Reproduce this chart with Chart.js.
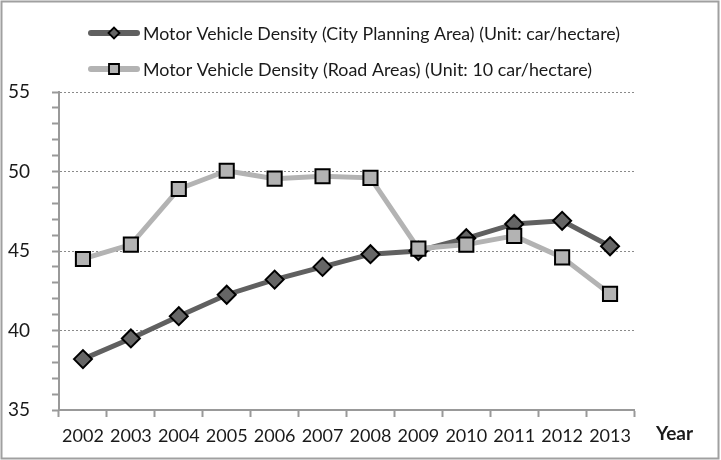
<!DOCTYPE html>
<html lang="en">
<head>
    <meta charset="UTF-8">
    <title>Motor Vehicle Density</title>
    <script src="https://cdn.jsdelivr.net/npm/chart.js"></script>
    <style type="text/css">
        body {
            margin: 0;
            background: #fff;
        }

        #wrap {
            width: 721px;
            height: 460px;
        }
    </style>
</head>
<body>
<div id="wrap">
    <canvas id="myChart" width="721" height="460"></canvas>
</div>

<script>
  var years = ['2002', '2003', '2004', '2005', '2006', '2007', '2008', '2009', '2010', '2011', '2012', '2013'];
  var cityPlanning = [38.2, 39.5, 40.9, 42.25, 43.2, 44.0, 44.8, 45.0, 45.8, 46.7, 46.9, 45.3];
  var roadAreas = [44.5, 45.4, 48.9, 50.05, 49.55, 49.7, 49.6, 45.15, 45.4, 45.95, 44.6, 42.3];
  var seriesNames = [
    'Motor Vehicle Density (City Planning Area) (Unit: car/hectare)',
    'Motor Vehicle Density (Road Areas) (Unit: 10 car/hectare)'
  ];
  var yTicks = [35, 40, 45, 50, 55];

  var FONT = 'Lato, "Liberation Sans", sans-serif';
  var DARK = '#606060';
  var LIGHT = '#b3b3b3';

  // legend, frame and axis label drawn by hand
  var decorPlugin = {
    id: 'decor',
    beforeDraw: function (chart) {
      var c = chart.ctx;
      c.save();
      c.fillStyle = '#fff';
      c.fillRect(0, 0, chart.width, chart.height);
      c.restore();
    },
    afterDraw: function (chart) {
      var c = chart.ctx;
      c.save();

      var rows = [
        {y: 33, color: DARK, fill: '#666', style: 'diamond', width: 477},
        {y: 69, color: LIGHT, fill: LIGHT, style: 'square', width: 449}
      ];
      rows.forEach(function (row, i) {
        c.strokeStyle = row.color;
        c.lineWidth = 6;
        c.lineCap = 'round';
        c.beginPath();
        c.moveTo(91, row.y);
        c.lineTo(137, row.y);
        c.stroke();

        c.fillStyle = row.fill;
        c.strokeStyle = '#000';
        c.lineWidth = 1.8;
        c.beginPath();
        if (row.style === 'diamond') {
          c.moveTo(114 - 5.5, row.y);
          c.lineTo(114, row.y - 5.5);
          c.lineTo(114 + 5.5, row.y);
          c.lineTo(114, row.y + 5.5);
          c.closePath();
        } else {
          c.rect(109, row.y - 5, 10, 10);
        }
        c.fill();
        c.stroke();

        c.fillStyle = '#1a1a1a';
        c.font = '18px ' + FONT;
        c.textBaseline = 'middle';
        c.textAlign = 'left';
        c.fillText(seriesNames[i], 143, row.y + 1, row.width);
      });

      c.font = 'bold 19px ' + FONT;
      c.fillStyle = '#1a1a1a';
      c.textBaseline = 'alphabetic';
      c.fillText('Year', 656, 440, 45);

      c.strokeStyle = '#a0a0a0';
      c.lineWidth = 2;
      c.strokeRect(1.5, 1.5, 717, 457);
      c.restore();
    }
  };

  var ctx = document.getElementById('myChart').getContext('2d');

  var myChart = new Chart(ctx, {
    type: 'line',
    data: {
      labels: years,
      datasets: [{
        label: seriesNames[0],
        data: cityPlanning,
        borderColor: DARK,
        borderWidth: 5,
        backgroundColor: '#666',
        pointStyle: 'rectRot',
        pointRadius: 9,
        pointBorderColor: '#000',
        pointBorderWidth: 2,
        pointBackgroundColor: '#666',
        tension: 0,
        order: 2
      }, {
        label: seriesNames[1],
        data: roadAreas,
        borderColor: LIGHT,
        borderWidth: 5,
        backgroundColor: LIGHT,
        pointStyle: 'rect',
        pointRadius: 10,
        pointBorderColor: '#000',
        pointBorderWidth: 2,
        pointBackgroundColor: LIGHT,
        tension: 0,
        order: 1
      }]
    },
    plugins: [decorPlugin],
    options: {
      responsive: false,
      animation: false,
      layout: {
        padding: {left: 0, right: 87, top: 92, bottom: 0}
      },
      plugins: {
        legend: {display: false},
        tooltip: {enabled: false}
      },
      scales: {
        x: {
          type: 'category',
          offset: true,
          afterFit: function (s) { s.height = 50; },
          grid: {
            offset: true,
            drawOnChartArea: false,
            tickLength: 7,
            tickColor: '#999',
            tickWidth: 2
          },
          border: {color: '#999', width: 2},
          ticks: {
            color: '#1a1a1a',
            padding: 8,
            maxRotation: 0,
            autoSkip: false,
            font: {family: FONT, size: 18}
          }
        },
        y: {
          min: yTicks[0],
          max: yTicks[yTicks.length - 1],
          afterFit: function (s) { s.width = 59; },
          grid: {
            color: function (c) {
              var v = c.tick && c.tick.value;
              return (yTicks.indexOf(v) > 0) ? '#8a8a8a' : 'rgba(0,0,0,0)';
            },
            lineWidth: 1,
            tickLength: 7,
            tickColor: '#999',
            tickWidth: 2
          },
          border: {color: '#999', width: 2, dash: [2, 2]},
          ticks: {
            stepSize: 1,
            autoSkip: false,
            padding: 22,
            color: '#1a1a1a',
            font: {family: FONT, size: 19},
            callback: function (v) {
              return yTicks.indexOf(v) >= 0 ? v : '';
            }
          }
        }
      }
    }
  });
</script>
</body>
</html>
